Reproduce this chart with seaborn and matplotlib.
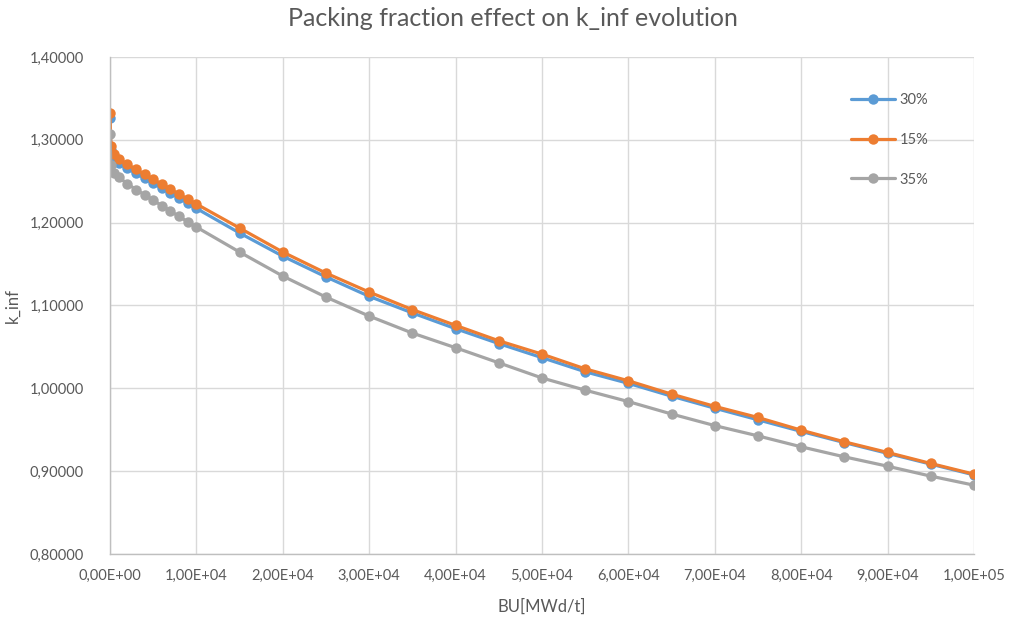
import matplotlib
matplotlib.use("Agg")
import matplotlib.pyplot as plt
import matplotlib.ticker as mticker
import numpy as np
import pandas as pd
import seaborn as sns

# Burnup steps [MWd/t]
bu = [0, 100, 500, 1000, 2000, 3000, 4000, 5000, 6000, 7000, 8000, 9000, 10000,
      15000, 20000, 25000, 30000, 35000, 40000, 45000, 50000, 55000, 60000,
      65000, 70000, 75000, 80000, 85000, 90000, 95000, 100000]

# k_inf for each packing fraction
k_30 = [1.3260, 1.2875, 1.2775, 1.2720, 1.2655, 1.2595, 1.2535, 1.2475, 1.2415,
        1.2355, 1.2295, 1.2235, 1.2172,
        1.1875, 1.1595, 1.1345, 1.1110, 1.0910, 1.0720, 1.0540, 1.0370, 1.0200,
        1.0060, 0.9905, 0.9760, 0.9620, 0.9480, 0.9345, 0.9215, 0.9085, 0.8955]
k_15 = [1.3325, 1.2930, 1.2830, 1.2770, 1.2705, 1.2645, 1.2585, 1.2525, 1.2465,
        1.2405, 1.2345, 1.2285, 1.2225,
        1.1935, 1.1645, 1.1391, 1.1162, 1.0950, 1.0760, 1.0574, 1.0413, 1.0235,
        1.0091, 0.9930, 0.9782, 0.9648, 0.9495, 0.9354, 0.9226, 0.9093, 0.8964]
k_35 = [1.3070, 1.2700, 1.2600, 1.2550, 1.2470, 1.2400, 1.2335, 1.2270, 1.2205,
        1.2140, 1.2075, 1.2010, 1.1947,
        1.1645, 1.1355, 1.1101, 1.0872, 1.0667, 1.0490, 1.0308, 1.0125, 0.9978,
        0.9840, 0.9690, 0.9550, 0.9426, 0.9294, 0.9173, 0.9060, 0.8940, 0.8831]

series = ["30%", "15%", "35%"]
colors = ["#5B9BD5", "#ED7D31", "#A5A5A5"]

df = pd.DataFrame({
    "BU": bu * 3,
    "k_inf": k_30 + k_15 + k_35,
    "series": [series[0]] * len(bu) + [series[1]] * len(bu) + [series[2]] * len(bu),
})

sns.set_style("white")
plt.rcParams["font.family"] = ["Lato", "DejaVu Sans"]
text_col = "#595959"

fig = plt.figure(figsize=(10.11, 6.22), dpi=100)
ax = fig.add_axes([0.1088, 0.1093, 0.8546, 0.7991])

sns.lineplot(data=df, x="BU", y="k_inf", hue="series", hue_order=series,
             palette=colors, marker="o", markersize=7.5, markeredgewidth=0,
             linewidth=2.3, ax=ax)

ax.set_xlim(0, 100000)
ax.set_ylim(0.8, 1.4)
ax.xaxis.set_major_locator(mticker.MultipleLocator(10000))
ax.yaxis.set_major_locator(mticker.MultipleLocator(0.1))
ax.xaxis.set_major_formatter(mticker.FuncFormatter(lambda v, p: f"{v:.2E}".replace(".", ",")))
ax.yaxis.set_major_formatter(mticker.FuncFormatter(lambda v, p: f"{v:.5f}".replace(".", ",")))

ax.grid(True, color="#D9D9D9", linewidth=1.0)
ax.set_axisbelow(True)
for side in ["top", "right"]:
    ax.spines[side].set_visible(False)
for side in ["left", "bottom"]:
    ax.spines[side].set_color("#BFBFBF")
    ax.spines[side].set_linewidth(1.0)

ax.tick_params(axis="both", length=0, labelsize=10.5, labelcolor=text_col)
ax.tick_params(axis="y", pad=19)
ax.tick_params(axis="x", pad=11)

ax.set_xlabel("BU[MWd/t]", fontsize=12, color=text_col, labelpad=11)
ax.set_ylabel("k_inf", fontsize=12, color=text_col, labelpad=6)
fig.suptitle("Packing fraction effect on k_inf evolution", fontsize=18,
             color=text_col, x=0.507, y=0.988)

leg = ax.legend(loc="upper left", bbox_to_anchor=(0.843, 0.953), frameon=False,
                fontsize=10.5, handlelength=3.0, handletextpad=0.3,
                labelspacing=1.75)
for t in leg.get_texts():
    t.set_color(text_col)

fig.savefig("out.png", dpi=100)
